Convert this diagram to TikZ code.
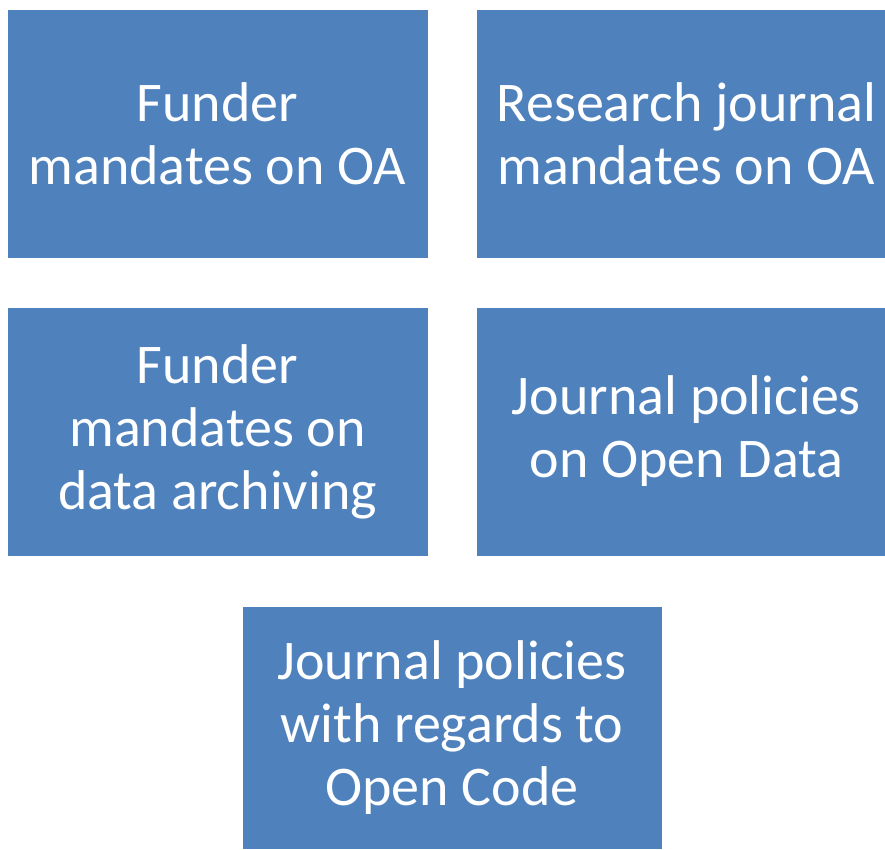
\documentclass[tikz,border=0pt]{standalone}
\usepackage{fontspec}
\setmainfont{Carlito}
\definecolor{boxblue}{HTML}{4F81BD}
\begin{document}
\begin{tikzpicture}[x=1pt,y=-1pt,
  bluebox/.style={fill=boxblue, draw=white, line width=0.8pt, text=white, align=center,
    font=\fontsize{56}{63}\selectfont, inner sep=0pt}]
\useasboundingbox (0,0) rectangle (885,850);
\path[fill=white] (0,0) rectangle (885,850);
\begin{scope}
\clip (0,0) rectangle (885,850);
\node[bluebox, minimum width=421pt, minimum height=249pt] (fo) at (217.5,133.5) {Funder\\mandates on OA};
\node[bluebox, minimum width=421pt, minimum height=249pt] (rj) at (686.5,133.5) {Research journal\\mandates on OA};
\node[bluebox, minimum width=421pt, minimum height=249pt] (fd) at (217.5,431.5) {Funder\\mandates on\\data archiving};
\node[bluebox, minimum width=421pt, minimum height=249pt] (jd) at (686.5,431.5) {Journal policies\\on Open Data};
\node[bluebox, minimum width=420pt, minimum height=243pt] (jc) at (452,727.5) {Journal policies\\with regards to\\Open Code};
\end{scope}
\end{tikzpicture}
\end{document}
